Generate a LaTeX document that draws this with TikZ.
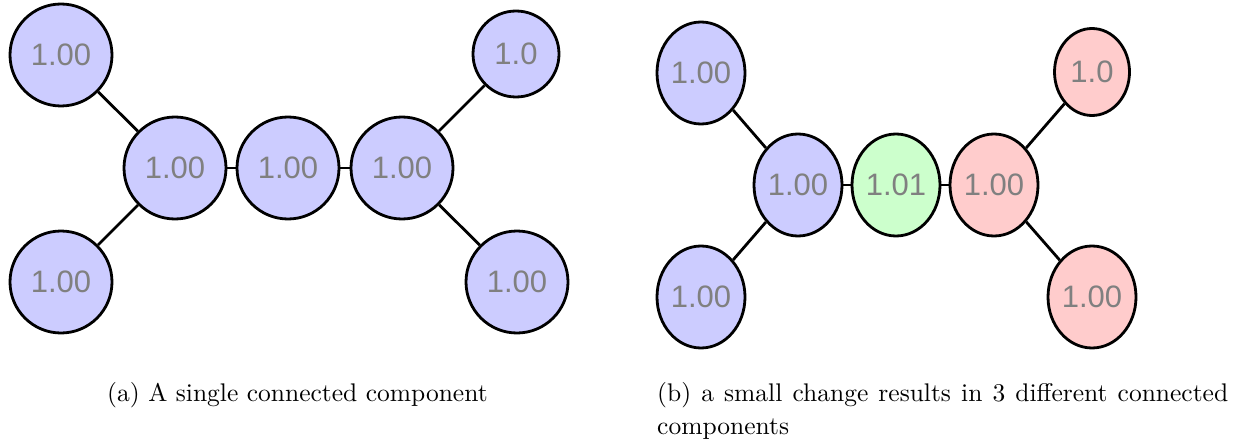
\documentclass[tikz,border=0pt]{standalone}
\usepackage{fontspec}
\newfontfamily\nodefont{Liberation Sans}
\newfontfamily\capfont[Extension=.otf]{lmroman10-regular}
\usetikzlibrary{shapes.geometric}
\definecolor{nblue}{RGB}{204,204,255}
\definecolor{ngreen}{RGB}{204,255,204}
\definecolor{nred}{RGB}{255,204,204}
\definecolor{ntext}{RGB}{128,128,128}
\tikzset{
  vtx/.style={ellipse, draw=black, line width=2.8pt, inner sep=0pt,
    font=\nodefont\fontsize{31}{34}\selectfont, text=ntext},
  bigc/.style={vtx, minimum width=102pt, minimum height=102pt},
  smallc/.style={vtx, minimum width=86pt, minimum height=86pt},
  ell/.style={vtx, minimum width=88pt, minimum height=102pt},
  ells/.style={vtx, minimum width=75pt, minimum height=87pt},
  edge/.style={line width=2.8pt, draw=black},
  captxt/.style={font=\capfont\fontsize{25.5}{33}\selectfont, inner sep=0pt, anchor=base west}
}
\begin{document}
\begin{tikzpicture}[x=1pt,y=-1pt]
\useasboundingbox (0,0) rectangle (1244,441);
% panel (a)
\node[bigc, fill=nblue] (a1) at (61,55) {1.00};
\node[bigc, fill=nblue] (a2) at (175,168) {1.00};
\node[bigc, fill=nblue] (a3) at (288,168) {1.00};
\node[bigc, fill=nblue] (a4) at (402,168) {1.00};
\node[bigc, fill=nblue] (a5) at (61,282) {1.00};
\node[smallc, fill=nblue] (a6) at (516,54) {1.0};
\node[bigc, fill=nblue] (a7) at (517,282) {1.00};
\draw[edge] (a1) -- (a2);
\draw[edge] (a5) -- (a2);
\draw[edge] (a2) -- (a3);
\draw[edge] (a3) -- (a4);
\draw[edge] (a4) -- (a6);
\draw[edge] (a4) -- (a7);
% panel (b)
\node[ell, fill=nblue] (b1) at (701,73) {1.00};
\node[ell, fill=nblue] (b2) at (798,185) {1.00};
\node[ell, fill=ngreen] (b3) at (896,185) {1.01};
\node[ell, fill=nred] (b4) at (994,185) {1.00};
\node[ell, fill=nblue] (b5) at (701,297) {1.00};
\node[ells, fill=nred] (b6) at (1092,72) {1.0};
\node[ell, fill=nred] (b7) at (1092,297) {1.00};
\draw[edge] (b1) -- (b2);
\draw[edge] (b5) -- (b2);
\draw[edge] (b2) -- (b3);
\draw[edge] (b3) -- (b4);
\draw[edge] (b4) -- (b6);
\draw[edge] (b4) -- (b7);
% captions
\node[captxt] (ca) at (107,401) {(a) A single connected component};
\node[captxt, text width=571pt, align=justify] (cb) at (657,401) {(b) a small change results in 3 different connected\linebreak components};
\end{tikzpicture}
\end{document}
